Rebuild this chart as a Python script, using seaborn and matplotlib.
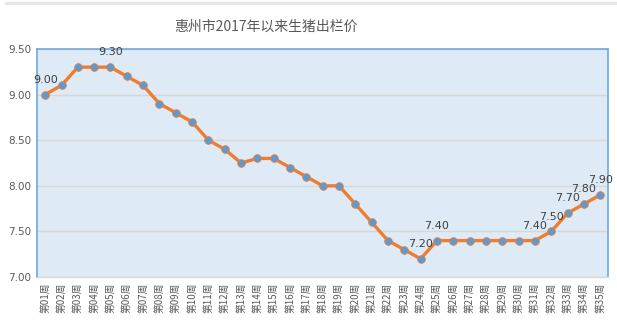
import matplotlib
matplotlib.use("Agg")
import matplotlib.pyplot as plt
from matplotlib.lines import Line2D
import seaborn as sns
import pandas as pd

weeks = [f"第{i:02d}周" for i in range(1, 36)]
prices = [9.00, 9.10, 9.30, 9.30, 9.30, 9.20, 9.10, 8.90, 8.80, 8.70,
          8.50, 8.40, 8.25, 8.30, 8.30, 8.20, 8.10, 8.00, 8.00, 7.80,
          7.60, 7.40, 7.30, 7.20, 7.40, 7.40, 7.40, 7.40, 7.40, 7.40,
          7.40, 7.50, 7.70, 7.80, 7.90]
labelled_weeks = ["第01周", "第05周", "第24周", "第25周", "第31周",
                  "第32周", "第33周", "第34周", "第35周"]
y_ticks = [7.00, 7.50, 8.00, 8.50, 9.00, 9.50]

sns.set_theme(style="white")
plt.rcParams["font.family"] = ["Noto Sans CJK SC", "DejaVu Sans"]

df = pd.DataFrame({"week": weeks, "price": prices})
df["pos"] = range(len(df))

fig = plt.figure(figsize=(6.17, 3.26), dpi=100)
ax = fig.add_axes([0.060, 0.150, 0.926, 0.700])
ax.set_facecolor("#DEEAF6")

sns.lineplot(data=df, x="pos", y="price", ax=ax, color="#ED7D31", linewidth=2.4,
             marker="o", markersize=5.5, markerfacecolor="#5B9BD5",
             markeredgecolor="#ED7D31", markeredgewidth=0.6, zorder=3)

ax.set_xlim(-0.5, len(df) - 0.5)
ax.set_ylim(7.0, 9.5)
ax.set_yticks(y_ticks)
ax.set_yticklabels([f"{v:.2f}" for v in y_ticks], fontsize=7.5, color="#595959",
                   family="DejaVu Sans")
ax.set_xticks(df["pos"])
ax.set_xticklabels(df["week"], rotation=90, fontsize=7, color="#595959")
ax.tick_params(axis="both", length=0, pad=4)
ax.set_xlabel("")
ax.set_ylabel("")
ax.yaxis.grid(True, color="#D6D6D6", linewidth=1)
ax.set_axisbelow(True)

for side in ["left", "top", "right"]:
    ax.spines[side].set_color("#6FA8DC")
    ax.spines[side].set_linewidth(1.2)
ax.spines["bottom"].set_color("#D9D9D9")
ax.spines["bottom"].set_linewidth(1.0)

for _, row in df[df["week"].isin(labelled_weeks)].iterrows():
    ax.annotate(f"{row['price']:.2f}", (row["pos"], row["price"]),
                xytext=(0, 7), textcoords="offset points", ha="center", va="bottom",
                fontsize=8, color="#404040", family="DejaVu Sans")

fig.text(0.431, 0.918, "惠州市2017年以来生猪出栏价", ha="center", va="center",
         fontsize=10, color="#595959")
fig.add_artist(Line2D([0.01, 1.0], [0.990, 0.990], transform=fig.transFigure,
                      color="#E6E6E6", linewidth=2.5))

fig.savefig("out.png", dpi=100, facecolor="white")
